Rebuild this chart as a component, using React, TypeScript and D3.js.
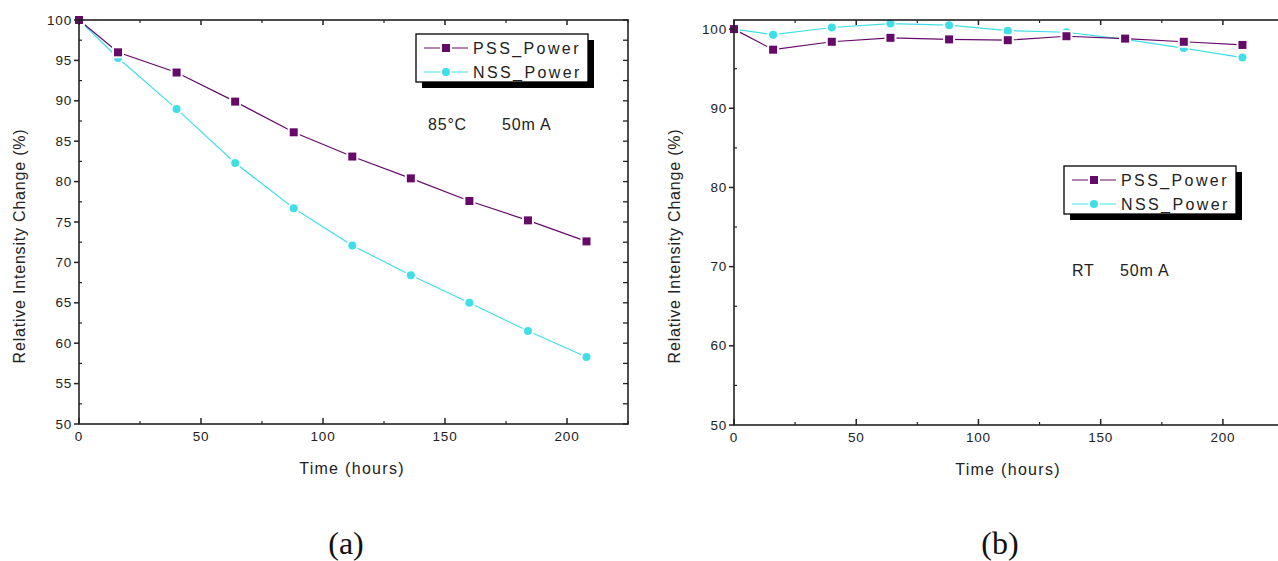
import React from "react";
import * as d3 from "d3";

// ---------- data ----------
const times = [0, 16, 40, 64, 88, 112, 136, 160, 184, 208];
const pssA = [100, 96.0, 93.5, 89.9, 86.1, 83.1, 80.4, 77.6, 75.2, 72.6];
const nssA = [100, 95.3, 89.0, 82.3, 76.7, 72.1, 68.4, 65.0, 61.5, 58.3];
const pssB = [100, 97.4, 98.4, 98.9, 98.7, 98.6, 99.1, 98.8, 98.4, 98.0];
const nssB = [100, 99.3, 100.2, 100.7, 100.5, 99.8, 99.6, 98.7, 97.6, 96.4];
const xTicks = [0, 50, 100, 150, 200];
const xMinor = [25, 75, 125, 175, 225];
const yTicksA = [50, 55, 60, 65, 70, 75, 80, 85, 90, 95, 100];
const yTicksB = [50, 60, 70, 80, 90, 100];
const seriesNames = ["PSS_Power", "NSS_Power"];

const PSS = "#660a6a";
const NSS = "#3ee0e6";
const SANS = "'Liberation Sans', Arial, sans-serif";

type PanelProps = {
  left: number;
  right: number;
  top: number;
  bottom: number;
  yDomain: [number, number];
  yMajor: number[];
  yMinor: number[];
  rightTicks: number[];
  pss: number[];
  nss: number[];
  legend: { x: number; y: number };
  note: { a: string; b: string; x1: number; x2: number; y: number };
  caption: { text: string; x: number };
  titleX: number;
};

function Square({ x, y, color }: { x: number; y: number; color: string }) {
  const s = 8;
  return (
    <rect x={x - s / 2} y={y - s / 2} width={s} height={s} fill={color}
      stroke="#fff" strokeWidth={4} paintOrder="stroke" />
  );
}
function Dot({ x, y, color }: { x: number; y: number; color: string }) {
  return <circle cx={x} cy={y} r={4} fill={color} stroke="#fff" strokeWidth={4} paintOrder="stroke" />;
}

function Panel(p: PanelProps) {
  const x = d3.scaleLinear().domain([0, 225]).range([p.left, p.right]);
  const y = d3.scaleLinear().domain(p.yDomain).range([p.bottom, p.top]);
  const line = d3.line<number>().x((_, i) => x(times[i])).y((d) => y(d));
  const lg = p.legend;
  return (
    <g fontFamily={SANS}>
      {/* series */}
      <path d={line(p.nss) || ""} fill="none" stroke={NSS} strokeWidth={1.2} />
      <path d={line(p.pss) || ""} fill="none" stroke={PSS} strokeWidth={1.2} />
      {p.nss.map((v, i) => <Dot key={"n" + i} x={x(times[i])} y={y(v)} color={NSS} />)}
      {p.pss.map((v, i) => <Square key={"p" + i} x={x(times[i])} y={y(v)} color={PSS} />)}

      {/* frame */}
      <rect x={p.left} y={p.top} width={p.right - p.left} height={p.bottom - p.top}
        fill="none" stroke="#222" strokeWidth={1.6} />

      {/* bottom and top ticks */}
      {xTicks.map((t) => (
        <g key={"xt" + t}>
          <line x1={x(t)} x2={x(t)} y1={p.bottom} y2={p.bottom - 6} stroke="#222" strokeWidth={1.5} />
          <line x1={x(t)} x2={x(t)} y1={p.top} y2={p.top + 5} stroke="#222" strokeWidth={1.5} />
          <text x={x(t)} y={p.bottom + 17} fontSize={13.5} textAnchor="middle" fill="#222" letterSpacing={0.8}>{t}</text>
        </g>
      ))}
      {xMinor.map((t) => (
        <g key={"xm" + t}>
          <line x1={x(t)} x2={x(t)} y1={p.bottom} y2={p.bottom - 3} stroke="#222" strokeWidth={1.2} />
          <line x1={x(t)} x2={x(t)} y1={p.top} y2={p.top + 3} stroke="#222" strokeWidth={1.2} />
        </g>
      ))}

      {/* left ticks */}
      {p.yMajor.map((t) => (
        <g key={"yt" + t}>
          <line x1={p.left} x2={p.left - 5} y1={y(t)} y2={y(t)} stroke="#222" strokeWidth={1.5} />
          <text x={p.left - 7} y={y(t) + 4.5} fontSize={13.5} textAnchor="end" fill="#222" letterSpacing={0.8}>{t}</text>
        </g>
      ))}
      {p.yMinor.map((t) => (
        <line key={"ym" + t} x1={p.left} x2={p.left + 3} y1={y(t)} y2={y(t)} stroke="#222" strokeWidth={1.2} />
      ))}
      {/* right ticks */}
      {p.rightTicks.map((t) => (
        <line key={"yr" + t} x1={p.right} x2={p.right - 5} y1={y(t)} y2={y(t)} stroke="#222" strokeWidth={1.3} />
      ))}

      {/* axis titles */}
      <text x={p.titleX} y={p.bottom + 50} fontSize={16} textAnchor="middle" fill="#222" letterSpacing={1.3}>Time (hours)</text>
      <text transform={`translate(${p.left - 54},246) rotate(-90)`} fontSize={16} textAnchor="middle" fill="#222" letterSpacing={0.8}>
        Relative Intensity Change (%)
      </text>

      {/* legend */}
      <rect x={lg.x + 6} y={lg.y + 6} width={172} height={48} fill="#000" />
      <rect x={lg.x} y={lg.y} width={172} height={48} fill="#fff" stroke="#000" strokeWidth={1.3} />
      {[PSS, NSS].map((c, i) => {
        const cy = lg.y + 14 + i * 24;
        return (
          <g key={"lg" + i}>
            <line x1={lg.x + 8} x2={lg.x + 52} y1={cy} y2={cy} stroke={c} strokeWidth={1.2} />
            {i === 0 ? <Square x={lg.x + 30} y={cy} color={c} /> : <Dot x={lg.x + 30} y={cy} color={c} />}
            <text x={lg.x + 57} y={cy + 6} fontSize={16} fill="#222" letterSpacing={2.4}>{seriesNames[i]}</text>
          </g>
        );
      })}

      {/* annotation */}
      <text x={p.note.x1} y={p.note.y} fontSize={16} fill="#222" letterSpacing={0.8}>{p.note.a}</text>
      <text x={p.note.x2} y={p.note.y} fontSize={16} fill="#222" letterSpacing={0.8}>{p.note.b}</text>

      {/* caption */}
      <text x={p.caption.x} y={554} fontSize={32} textAnchor="middle" fill="#111"
        fontFamily="'Liberation Serif', 'Times New Roman', serif">{p.caption.text}</text>
    </g>
  );
}

const range = (a: number, b: number, s: number) => d3.range(a, b + 1e-9, s);

export default function App() {
  const minorA = range(52.5, 97.5, 5);
  const minorB = range(55, 95, 10);
  return (
    <svg width={1278} height={561} style={{ position: "absolute", left: 0, top: 0, background: "#fff" }}>
      <rect width={1278} height={561} fill="#fff" />
      <Panel
        left={79} right={628} top={20} bottom={424}
        yDomain={[50, 100]}
        yMajor={yTicksA}
        yMinor={minorA}
        rightTicks={range(50, 100, 2.5)}
        pss={pssA} nss={nssA}
        legend={{ x: 416, y: 34 }}
        note={{ a: "85°C", b: "50m A", x1: 428, x2: 502, y: 130 }}
        caption={{ text: "(a)", x: 346 }}
        titleX={352}
      />
      <Panel
        left={734} right={1284} top={20} bottom={425}
        yDomain={[50, 101.15]}
        yMajor={yTicksB}
        yMinor={minorB}
        rightTicks={range(50, 100, 10)}
        pss={pssB} nss={nssB}
        legend={{ x: 1064, y: 166 }}
        note={{ a: "RT", b: "50m A", x1: 1072, x2: 1120, y: 276 }}
        caption={{ text: "(b)", x: 1000 }}
        titleX={1008}
      />
    </svg>
  );
}
